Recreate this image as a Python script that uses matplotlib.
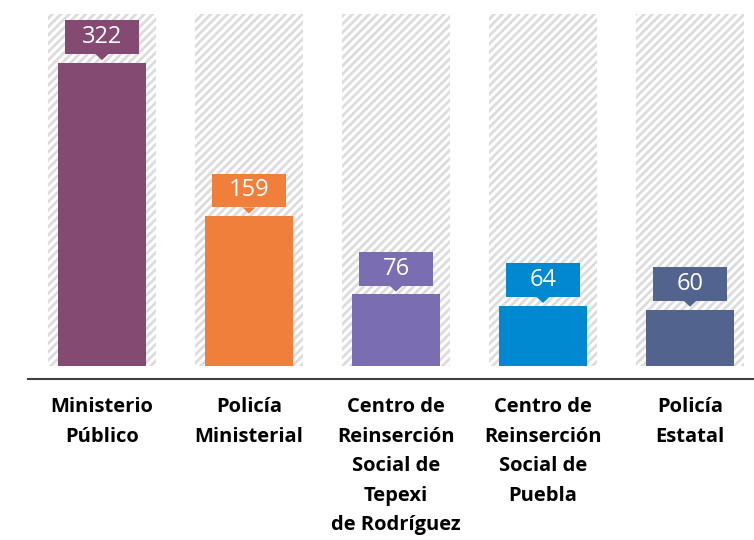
import matplotlib.pyplot as plt
from matplotlib.patches import Polygon, Rectangle

# data
categories = ['Ministerio\nPúblico', 'Policía\nMinisterial',
              'Centro de\nReinserción\nSocial de\nTepexi\nde Rodríguez',
              'Centro de\nReinserción\nSocial de\nPuebla', 'Policía\nEstatal']
values = [322, 159, 76, 64, 60]
colors = ['#844A72', '#F07F3C', '#7B6DB2', '#0088D1', '#52648E']

plt.rcParams['font.family'] = ['Open Sans', 'DejaVu Sans']
plt.rcParams['hatch.linewidth'] = 2.0
plt.rcParams['hatch.color'] = '#DCDCDC'

fig = plt.figure(figsize=(7.54, 5.40), dpi=100)
ax = fig.add_axes([28 / 754, 161 / 540, 726 / 754, 365 / 540])

ymax = 374
ax.set_xlim(-0.503, 4.435)
ax.set_ylim(-13.8, ymax)

x = list(range(len(values)))

# hatched background columns
ax.bar(x, [ymax] * len(values), width=0.73, color='white', edgecolor='#DCDCDC',
       hatch='////', linewidth=0, zorder=1)
ax.bar(x, values, width=0.6, color=colors, zorder=2)

# value boxes with little pointer
box_w = 0.5
box_h = 36
for xi, v, c in zip(x, values, colors):
    y0 = v + 9.5
    ax.add_patch(Rectangle((xi - box_w / 2, y0), box_w, box_h, facecolor=c,
                           edgecolor='none', zorder=3))
    ax.add_patch(Polygon([(xi - 0.045, y0), (xi + 0.045, y0), (xi, y0 - 6.5)],
                         closed=True, facecolor=c, edgecolor='none', zorder=3))
    ax.text(xi, y0 + box_h / 2, str(v), ha='center', va='center', color='white',
            fontsize=17, zorder=4)

for xi, label in zip(x, categories):
    ax.text(xi, -0.05, label, transform=ax.get_xaxis_transform(), ha='center',
            va='top', fontsize=14.5, fontweight='bold', color='black',
            linespacing=1.63)

for s in ['top', 'right', 'left']:
    ax.spines[s].set_visible(False)
ax.spines['bottom'].set_color('#404040')
ax.spines['bottom'].set_linewidth(1.5)
ax.set_xticks([])
ax.set_yticks([])

fig.savefig('out.png', dpi=100)
